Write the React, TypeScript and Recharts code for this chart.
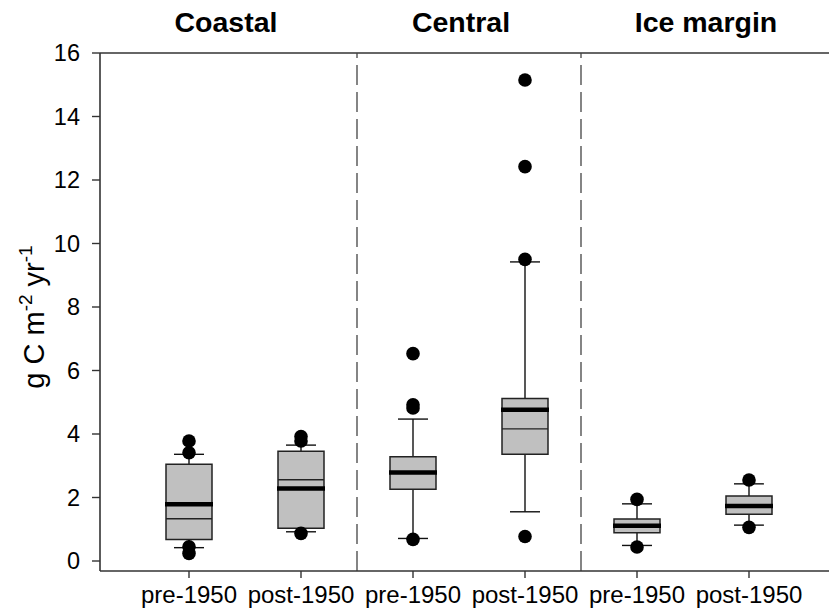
import React from 'react';
import { ComposedChart, Bar, Scatter, XAxis, YAxis, ReferenceLine } from 'recharts';

// ---- data ----
const groupTitles = ['Coastal', 'Central', 'Ice margin'];
const categories = ['coastal-pre', 'coastal-post', 'central-pre', 'central-post', 'ice-pre', 'ice-post'];
const tickLabels = ['pre-1950', 'post-1950', 'pre-1950', 'post-1950', 'pre-1950', 'post-1950'];
const whiskerLow = [0.42, 0.92, 0.71, 1.55, 0.49, 1.13];
const q1 = [0.68, 1.03, 2.26, 3.36, 0.89, 1.47];
const median = [1.79, 2.28, 2.79, 4.76, 1.11, 1.73];
const mean = [1.33, 2.56, 2.8, 4.16, 1.12, 1.76];
const q3 = [3.05, 3.46, 3.28, 5.12, 1.32, 2.05];
const whiskerHigh = [3.36, 3.65, 4.47, 9.42, 1.8, 2.43];
const outliers = [
  [3.78, 3.41, 0.45, 0.24],
  [3.92, 3.78, 0.87],
  [6.53, 4.92, 4.82, 0.68],
  [15.15, 12.42, 9.5, 0.77],
  [1.94, 0.44],
  [2.55, 1.06],
];
const yTicks = [0, 2, 4, 6, 8, 10, 12, 14, 16];
const dividerCategories = ['central-pre', 'ice-pre'];

const FONT = 'Liberation Sans, Arial, Helvetica, sans-serif';
const BOX_W = 46;
const CAP_W = 30;

const WhiskerShape = (props: any) => {
  const { x, y, width, height } = props;
  if (x == null || y == null) return null;
  const cx = x + width / 2;
  return (
    <g stroke="#111" strokeWidth={1.4}>
      <line x1={cx} x2={cx} y1={y} y2={y + height} />
      <line x1={cx - CAP_W / 2} x2={cx + CAP_W / 2} y1={y} y2={y} />
      <line x1={cx - CAP_W / 2} x2={cx + CAP_W / 2} y1={y + height} y2={y + height} />
    </g>
  );
};

const MedianShape = (props: any) => {
  const { cx, cy } = props;
  if (cx == null || cy == null) return null;
  return <line x1={cx - BOX_W / 2 - 1} x2={cx + BOX_W / 2 + 1} y1={cy} y2={cy} stroke="#000" strokeWidth={4.5} />;
};

const MeanShape = (props: any) => {
  const { cx, cy } = props;
  if (cx == null || cy == null) return null;
  return <line x1={cx - BOX_W / 2} x2={cx + BOX_W / 2} y1={cy} y2={cy} stroke="#222" strokeWidth={1.4} />;
};

const DotShape = (props: any) => {
  const { cx, cy } = props;
  if (cx == null || cy == null) return null;
  return <circle cx={cx} cy={cy} r={6.8} fill="#000" />;
};

export default function App() {
  const data = categories.map((cat, i) => ({
    cat,
    whisker: [whiskerLow[i], whiskerHigh[i]],
    box: [q1[i], q3[i]],
    median: median[i],
    mean: mean[i],
  }));
  const outlierData = categories.flatMap((cat, i) => outliers[i].map((v) => ({ cat, value: v })));

  const titleX = [226, 461, 706];

  return (
    <div style={{ position: 'absolute', left: 0, top: 0, width: 829, height: 612, background: '#fff' }}>
      <ComposedChart
        width={829}
        height={612}
        data={data}
        margin={{ top: 53, right: 0, bottom: 0, left: 0 }}
        barSize={BOX_W}
        barGap={-BOX_W}
      >
        <XAxis
          dataKey="cat"
          type="category"
          allowDuplicatedCategory={false}
          height={41}
          padding={{ left: 33, right: 24 }}
          interval={0}
          tickFormatter={(v: string) => tickLabels[categories.indexOf(v)]}
          tickSize={7}
          tickMargin={8}
          tick={{ fill: '#000', fontSize: 24, fontFamily: FONT }}
          axisLine={{ stroke: '#333', strokeWidth: 1.6 }}
          tickLine={{ stroke: '#333', strokeWidth: 1.4 }}
        />
        <YAxis
          type="number"
          domain={[-0.315, 16]}
          ticks={yTicks}
          interval={0}
          width={100}
          tickSize={8}
          tickMargin={12}
          tick={{ fill: '#000', fontSize: 23.5, fontFamily: FONT }}
          axisLine={{ stroke: '#333', strokeWidth: 1.6 }}
          tickLine={{ stroke: '#333', strokeWidth: 1.4 }}
        />
        <ReferenceLine y={16} stroke="#333" strokeWidth={1.6} />
        {dividerCategories.map((c) => (
          <ReferenceLine key={c} x={c} position="start" stroke="#444" strokeWidth={1.3} strokeDasharray="20 7" />
        ))}
        <Bar dataKey="whisker" shape={WhiskerShape} isAnimationActive={false} />
        <Bar dataKey="box" fill="#c0c0c0" stroke="#222" strokeWidth={1.5} isAnimationActive={false} />
        <Scatter dataKey="mean" shape={MeanShape} isAnimationActive={false} />
        <Scatter dataKey="median" shape={MedianShape} isAnimationActive={false} />
        <Scatter data={outlierData} dataKey="value" shape={DotShape} isAnimationActive={false} />
      </ComposedChart>
      <svg
        width={829}
        height={612}
        style={{ position: 'absolute', left: 0, top: 0, pointerEvents: 'none' }}
      >
        {groupTitles.map((t, i) => (
          <text key={t} x={titleX[i]} y={32} textAnchor="middle" fontFamily={FONT} fontWeight="bold" fontSize={28.5} fill="#000">
            {t}
          </text>
        ))}
        <text
          x={44}
          y={317}
          transform="rotate(-90, 44, 317)"
          textAnchor="middle"
          fontFamily={FONT}
          fontSize={29}
          fill="#000"
        >
          g C m<tspan dy={-12} fontSize={19}>-2</tspan>
          <tspan dy={12}> yr</tspan>
          <tspan dy={-12} fontSize={19}>-1</tspan>
        </text>
      </svg>
    </div>
  );
}
